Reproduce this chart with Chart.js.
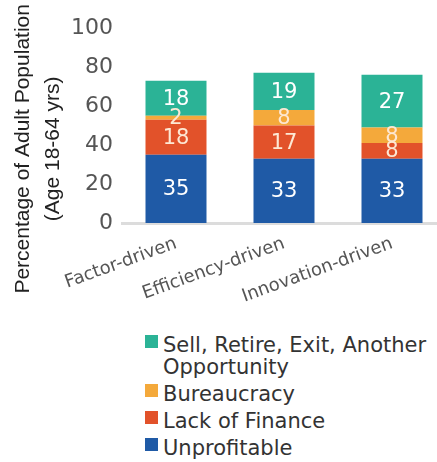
<!DOCTYPE html>
<html><head><meta charset="utf-8">
<script src="https://cdn.jsdelivr.net/npm/chart.js@4.4.0/dist/chart.umd.min.js"></script>
<style>
html,body{margin:0;padding:0;background:#fff;overflow:hidden;width:437px;height:462px;}
#wrap{position:absolute;left:0;top:0;width:446px;height:330px;}
#legend{position:absolute;left:145px;top:334px;width:290px;font-family:"DejaVu Sans",sans-serif;font-size:21px;color:#333;}
.item{display:flex;align-items:flex-start;line-height:22px;margin-bottom:5px;}
.box{width:13px;height:13px;margin-top:1px;margin-right:5px;flex:none;}
</style></head><body>
<div id="wrap"><canvas id="c" width="446" height="330"></canvas></div>
<div id="legend"></div>
<script>
const categories = ['Factor-driven', 'Efficiency-driven', 'Innovation-driven'];
const seriesNames = ['Unprofitable', 'Lack of Finance', 'Bureaucracy', 'Sell, Retire, Exit, Another Opportunity'];
const unprofitable = [35, 33, 33];
const lackOfFinance = [18, 17, 8];
const bureaucracy = [2, 8, 8];
const sellRetire = [18, 19, 27];
const yTicks = [0, 20, 40, 60, 80, 100];
const yTitle = ['Percentage of Adult Population', '(Age 18-64 yrs)'];
const seriesColors = ['#1f5aa6', '#e2522a', '#f4a93b', '#2bb396'];
const valueLabelColors = ['#ffffff', '#fde8d4', '#fde8d4', '#ffffff'];

const seriesValues = [unprofitable, lackOfFinance, bureaucracy, sellRetire];
const pad = '\u00A0'.repeat(8);

const valueLabels = {
  id: 'valueLabels',
  afterDatasetsDraw(chart) {
    const ctx = chart.ctx;
    ctx.save();
    ctx.font = '21px "DejaVu Sans"';
    ctx.textAlign = 'center';
    ctx.textBaseline = 'middle';
    chart.data.datasets.forEach((ds, di) => {
      const meta = chart.getDatasetMeta(di);
      meta.data.forEach((el, i) => {
        const p = el.getProps(['x', 'y', 'base'], true);
        ctx.fillStyle = valueLabelColors[di];
        ctx.fillText(String(ds.data[i]), p.x, (p.y + p.base) / 2 + 1);
      });
    });
    ctx.restore();
  }
};

const chart = new Chart(document.getElementById('c'), {
  type: 'bar',
  data: {
    labels: categories,
    datasets: seriesNames.map((n, i) => ({
      label: n,
      data: seriesValues[i],
      backgroundColor: seriesColors[i],
      borderWidth: 0,
      categoryPercentage: 0.8,
      barPercentage: 0.706
    }))
  },
  options: {
    responsive: false,
    animation: false,
    devicePixelRatio: 1,
    layout: { padding: { top: 28, right: 0, left: 0, bottom: 0 } },
    plugins: { legend: { display: false }, tooltip: { enabled: false } },
    scales: {
      x: {
        stacked: true,
        grid: { display: false },
        border: { display: true, color: '#dcdcdc', width: 3 },
        ticks: {
          minRotation: 20, maxRotation: 20, padding: 2,
          color: '#555',
          font: { family: '"DejaVu Sans"', size: 18 }
        },
        afterFit(scale) { scale.height = 107; }
      },
      y: {
        stacked: true,
        min: 0, max: 100,
        afterBuildTicks(scale) { scale.ticks = yTicks.map(v => ({ value: v })); },
        grid: { display: false },
        border: { display: false },
        ticks: {
          padding: 1,
          color: '#555',
          font: { family: '"DejaVu Sans"', size: 22 }
        },
        title: {
          display: true,
          text: yTitle.map(t => t + pad),
          color: '#222',
          font: { family: '"Liberation Sans"', size: 21, lineHeight: 1.45 },
          padding: { top: 8, bottom: 0 }
        },
        afterFit(scale) { scale.width = 122; }
      }
    }
  },
  plugins: [valueLabels]
});

const legendEl = document.getElementById('legend');
chart.data.datasets.slice().reverse().forEach(ds => {
  const item = document.createElement('div');
  item.className = 'item';
  const box = document.createElement('span');
  box.className = 'box';
  box.style.background = ds.backgroundColor;
  const txt = document.createElement('span');
  txt.textContent = ds.label;
  item.appendChild(box);
  item.appendChild(txt);
  legendEl.appendChild(item);
});
</script>
</body></html>
